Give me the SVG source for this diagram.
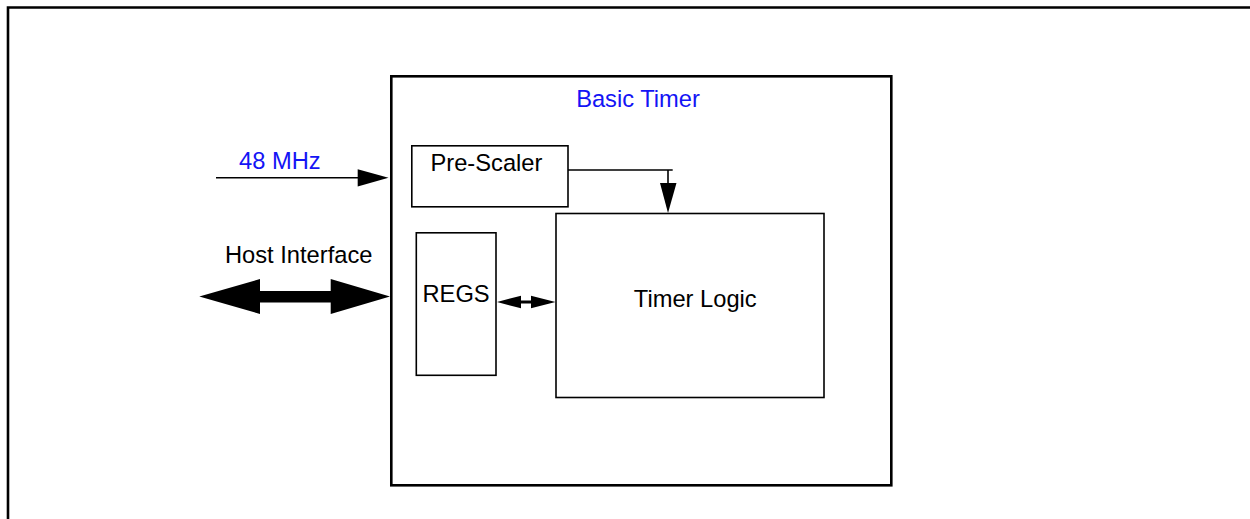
<svg xmlns="http://www.w3.org/2000/svg" width="1250" height="519" viewBox="0 0 1250 519">
<style>
.t{font-family:"Liberation Sans",Arial,sans-serif;font-size:23.7px;fill:#000}
.b{fill:#1414f5}
.box{fill:none;stroke:#000;stroke-width:1.6}
.big{fill:none;stroke:#000;stroke-width:2.6}
.ln{fill:none;stroke:#000;stroke-width:1.6}
</style>
<rect width="1250" height="519" fill="#fff"/>
<path d="M8,519 V7.5 H1250" fill="none" stroke="#000" stroke-width="2.6"/>
<g id="basic-timer">
<rect class="big" x="391.3" y="76.3" width="500" height="409"/>
<text class="t b" x="638" y="106.7" text-anchor="middle">Basic Timer</text>
</g>
<g id="pre-scaler">
<rect class="box" x="411.8" y="145.8" width="156.2" height="61"/>
<text class="t" x="430.5" y="170.7">Pre-Scaler</text>
</g>
<g id="regs">
<rect class="box" x="416.3" y="232.8" width="79.7" height="142.5"/>
<text class="t" x="422.5" y="301.7">REGS</text>
</g>
<g id="timer-logic">
<rect class="box" x="556" y="213.5" width="268" height="184"/>
<text class="t" x="695.3" y="306.7" text-anchor="middle">Timer Logic</text>
</g>
<g id="labels">
<text class="t b" x="239" y="169.3">48 MHz</text>
<text class="t" x="225" y="263.3">Host Interface</text>
</g>
<g id="connectors">
<path class="ln" d="M216,177.7 H360"/>
<polygon points="357.7,169.3 388.5,177.7 357.7,186.5"/>
<path class="ln" d="M568,170 H672.7 M668,170 V185"/>
<polygon points="660,183 676.5,183 668,213"/>
<polygon points="199.3,296.5 260,279 260,291 330.7,291 330.7,279 390,296.5 330.7,314 330.7,302.5 260,302.5 260,314"/>
<polygon points="497,302 521,295.7 521,300.5 531,300.5 531,295.7 555.5,302 531,308.3 531,303.5 521,303.5 521,308.3"/>
</g>
</svg>
